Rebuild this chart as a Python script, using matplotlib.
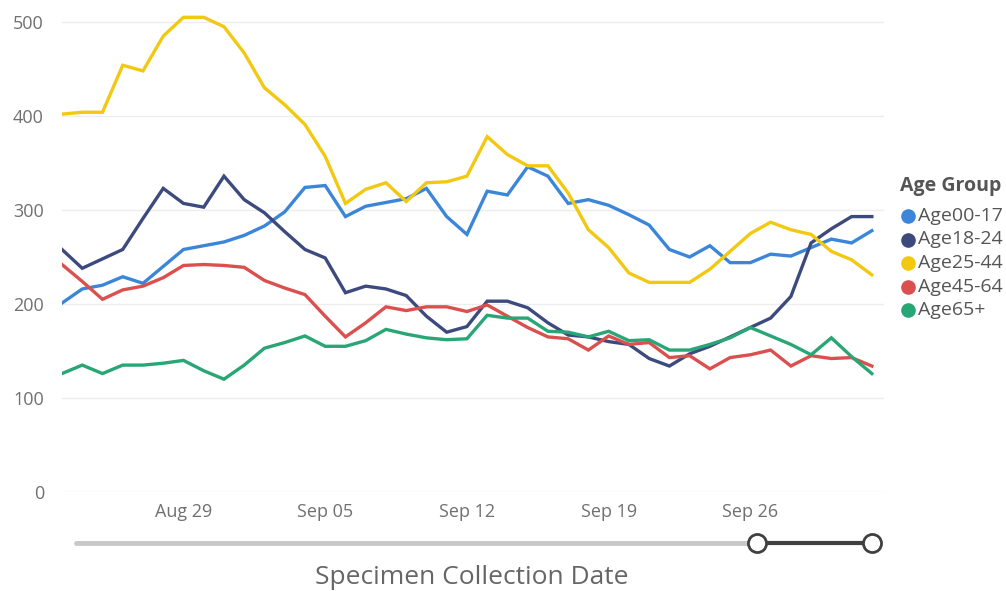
import numpy as np
import pandas as pd
import matplotlib
matplotlib.use("Agg")
import matplotlib.pyplot as plt
from matplotlib.lines import Line2D

plt.rcParams['font.family'] = ['Open Sans', 'DejaVu Sans']

# daily counts by age group, Aug 23 - Oct 2
dates = pd.date_range("2021-08-23", "2021-10-02", freq="D")

age00_17 = [201, 216, 220, 229, 222, 240, 258, 262, 266, 273, 283, 298, 324, 326, 293, 304,
            308, 312, 323, 293, 274, 320, 316, 346, 336, 307, 311, 305, 295, 284, 258, 250,
            262, 244, 244, 253, 251, 260, 269, 265, 278]
age18_24 = [258, 238, 248, 258, 291, 323, 307, 303, 336, 311, 297, 277, 258, 249, 212, 219,
            216, 209, 187, 170, 176, 203, 203, 196, 180, 167, 165, 160, 157, 142, 134, 147,
            155, 165, 175, 185, 208, 265, 280, 293, 293]
age25_44 = [402, 404, 404, 454, 448, 485, 505, 505, 495, 467, 430, 412, 391, 357, 307, 322,
            329, 309, 329, 330, 336, 378, 359, 347, 347, 318, 279, 260, 233, 223, 223, 223,
            237, 256, 275, 287, 279, 274, 256, 247, 231]
age45_64 = [242, 224, 205, 215, 219, 228, 241, 242, 241, 239, 225, 217, 210, 187, 165, 180,
            197, 193, 197, 197, 192, 199, 187, 175, 165, 163, 151, 166, 157, 159, 143, 145,
            131, 143, 146, 151, 134, 145, 142, 143, 134]
age65 = [126, 135, 126, 135, 135, 137, 140, 129, 120, 135, 153, 159, 166, 155, 155, 161,
         173, 168, 164, 162, 163, 188, 185, 185, 171, 170, 165, 171, 161, 162, 151, 151,
         157, 164, 175, 166, 157, 146, 164, 144, 126]

series = [("Age00-17", age00_17, "#3B86D8"),
          ("Age18-24", age18_24, "#3C4A7E"),
          ("Age25-44", age25_44, "#F2C811"),
          ("Age45-64", age45_64, "#DB4F4F"),
          ("Age65+", age65, "#28A675")]

tick_dates = ["2021-08-29", "2021-09-05", "2021-09-12", "2021-09-19", "2021-09-26"]

W, H = 1006, 591
fig = plt.figure(figsize=(W / 100, H / 100), dpi=100)
ax = fig.add_axes([62 / W, 1 - 492 / H, 822 / W, 510 * 0.94 / H])

for name, vals, col in series:
    ax.plot(dates, vals, color=col, lw=2.4, solid_joinstyle="miter", zorder=3)

ax.set_xlim(dates[0], dates[0] + pd.Timedelta(days=40.6))
ax.set_ylim(0, 510)
ax.set_yticks([0, 100, 200, 300, 400, 500])
ax.set_xticks(pd.to_datetime(tick_dates))
ax.set_xticklabels([pd.Timestamp(d).strftime("%b %d") for d in tick_dates])
ax.grid(axis="y", color="#ededed", lw=1)
ax.set_axisbelow(True)
for s in ax.spines.values():
    s.set_visible(False)
ax.tick_params(length=0, labelsize=13, colors="#707070")
ax.tick_params(axis="x", pad=8)
ax.tick_params(axis="y", pad=13)

# range slider under the axis
def px(x, y):
    return x / W, 1 - y / H

fig.add_artist(Line2D(*zip(px(76, 543), px(757, 543)), color="#c8c8c8", lw=3.5,
                      solid_capstyle="round"))
fig.add_artist(Line2D(*zip(px(757, 543), px(872, 543)), color="#404040", lw=3))
for xx in (757, 872):
    fig.add_artist(Line2D([px(xx, 543)[0]], [px(xx, 543)[1]], marker="o", ms=13,
                          mfc="white", mec="#404040", mew=2))

fig.text(472 / W, 1 - 578 / H, "Specimen Collection Date", ha="center", va="center",
         fontsize=19, color="#666666")

# legend (runs off the right edge like the original)
fig.text(900 / W, 1 - 186 / H, "Age Group", ha="left", va="center", fontsize=14,
         fontweight="bold", color="#555555")
for k, (name, vals, col) in enumerate(series):
    yy = 216 + k * 23.5
    fig.add_artist(Line2D([908 / W], [1 - yy / H], marker="o", ms=9.5, color=col, lw=0))
    fig.text(918 / W, 1 - yy / H, name, ha="left", va="center", fontsize=14,
             color="#555555")

fig.savefig("out.png", dpi=100)
